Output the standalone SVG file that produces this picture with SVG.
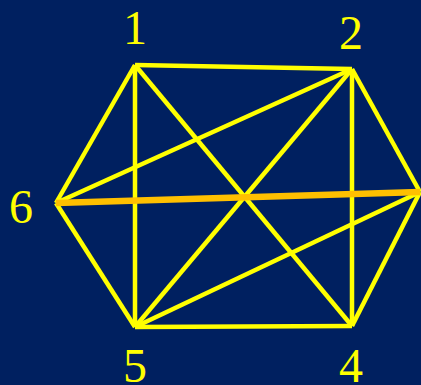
<svg xmlns="http://www.w3.org/2000/svg" width="421" height="385" viewBox="0 0 421 385">
<style>
.e{stroke:#FFFF00;stroke-width:4.5;fill:none;stroke-linecap:butt}
.o{stroke:#FFC000;stroke-width:6.5;fill:none}
.l{font-family:"Liberation Serif","Times New Roman",serif;font-size:48px;fill:#FFFF00;text-anchor:middle}
</style>
<rect width="421" height="385" fill="#002060"/>
<g id="connectors">
<line class="e" x1="135" y1="65" x2="352" y2="69"/>
<line class="e" x1="352" y1="69" x2="420" y2="192"/>
<line class="e" x1="420" y1="192" x2="352" y2="326"/>
<line class="e" x1="352" y1="326" x2="135" y2="327"/>
<line class="e" x1="135" y1="327" x2="56" y2="203"/>
<line class="e" x1="56" y1="203" x2="135" y2="65"/>
<line class="e" x1="135" y1="65" x2="135" y2="327"/>
<line class="e" x1="135" y1="65" x2="352" y2="326"/>
<line class="e" x1="352" y1="69" x2="56" y2="203"/>
<line class="e" x1="352" y1="69" x2="135" y2="327"/>
<line class="e" x1="352" y1="69" x2="352" y2="326"/>
<line class="e" x1="420" y1="192" x2="135" y2="327"/>
<line class="o" x1="56" y1="203" x2="420" y2="192"/>
</g>
<g id="n1"><text class="l" x="135" y="44">1</text></g>
<g id="n2"><text class="l" x="351" y="49">2</text></g>
<g id="n3"></g>
<g id="n4"><text class="l" x="351" y="382">4</text></g>
<g id="n5"><text class="l" x="135" y="382">5</text></g>
<g id="n6"><text class="l" x="21" y="223">6</text></g>
</svg>
